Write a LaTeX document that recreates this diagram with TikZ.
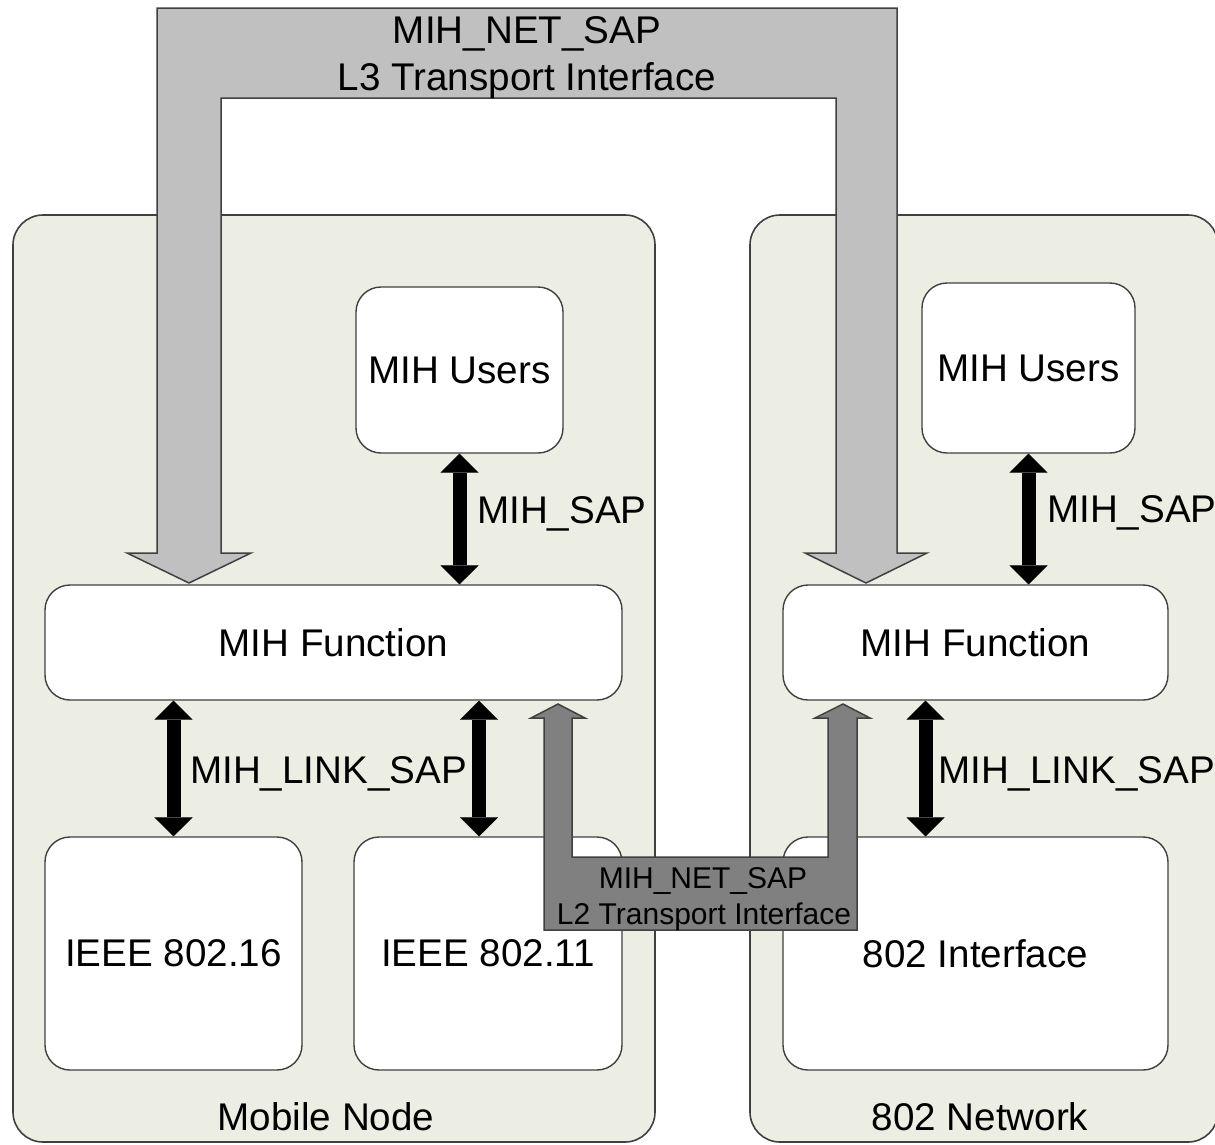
\documentclass[tikz,border=0pt]{standalone}
\usepackage{fontspec}
\setmainfont{Liberation Sans}
\usetikzlibrary{arrows.meta}
\definecolor{contfill}{RGB}{237,238,227}
\definecolor{edgecol}{RGB}{64,64,64}
\definecolor{lthreecol}{RGB}{192,192,192}
\definecolor{ltwocol}{RGB}{128,128,128}
\newcommand\mihbig{\fontsize{38.6pt}{46pt}\selectfont}
\newcommand\mihsmall{\fontsize{30pt}{36pt}\selectfont}
\tikzset{
  container/.style={draw=edgecol, line width=1.6pt, fill=contfill, rounded corners=30pt, inner sep=0pt},
  block/.style={draw=edgecol, line width=1.4pt, fill=white, rounded corners=25pt, inner sep=0pt, font=\mihbig},
  lbl/.style={inner sep=0pt, font=\mihbig},
  smalllbl/.style={inner sep=0pt, font=\mihsmall},
  dbl/.style={line width=14pt, black, {Triangle[width=38pt,length=19pt,line width=0.1pt]}-{Triangle[width=38pt,length=19pt,line width=0.1pt]}},
  bigarrow/.style={draw=edgecol, line width=1.5pt, fill=lthreecol, line join=miter},
  smallarrow/.style={draw=edgecol, line width=1.5pt, fill=ltwocol, line join=miter}
}
\begin{document}
\begin{tikzpicture}[x=1pt, y=-1pt]
\useasboundingbox (0,0) rectangle (1215,1144);
\fill[white] (0,0) rectangle (1215,1144);

% containers
\node[container, minimum width=642pt, minimum height=927pt] (mobile) at (334,678.5) {};
\node[container, minimum width=468pt, minimum height=927pt] (network) at (984,678.5) {};

% blocks
\node[block, minimum width=207pt, minimum height=166pt] (usersL) at (459.5,370) {MIH Users};
\node[block, minimum width=213pt, minimum height=170pt] (usersR) at (1028.5,368) {MIH Users};
\node[block, minimum width=577pt, minimum height=115pt] (funcL) at (333.5,642.5) {MIH Function};
\node[block, minimum width=385pt, minimum height=115pt] (funcR) at (975.5,642.5) {MIH Function};
\node[block, minimum width=257pt, minimum height=233pt] (n16) at (173.5,953.5) {IEEE 802.16};
\node[block, minimum width=268pt, minimum height=233pt] (n11) at (488,953.5) {IEEE 802.11};
\node[block, minimum width=385pt, minimum height=233pt] (n802) at (975.5,953.5) {802 Interface};

% SAP arrows
\draw[dbl] (usersL.south) -- (usersL.south |- funcL.north);
\draw[dbl] (usersR.south) -- (usersR.south |- funcR.north);
\draw[dbl] (n16.north) -- (n16.north |- funcL.south);
\draw[dbl] ([xshift=-9pt]n11.north) -- ([xshift=-9pt]n11.north |- funcL.south);
\draw[dbl] ([xshift=-50pt]n802.north) -- ([xshift=-50pt]n802.north |- funcR.south);

% labels
\node[lbl, anchor=base west] (sapL) at (477,523) {MIH\_SAP};
\node[lbl, anchor=base west] (sapR) at (1047,522) {MIH\_SAP};
\node[lbl, anchor=base west] (linkL) at (190,783) {MIH\_LINK\_SAP};
\node[lbl, anchor=base west] (linkR) at (938,783) {MIH\_LINK\_SAP};
\node[lbl, anchor=base] (mnlab) at (326,1130) {Mobile Node};
\node[lbl, anchor=base] (nwlab) at (980,1130) {802 Network};

% L3 transport arrow
\draw[bigarrow] (157,8) -- (897,8) -- (897,553) -- (927,553) -- (866,583) -- (805,553) -- (836,553)
  -- (836,98) -- (221,98) -- (221,553) -- (251,553) -- (189,583) -- (127,553) -- (157,553) -- cycle;
\node[lbl, anchor=base] (l3a) at (527,43) {MIH\_NET\_SAP};
\node[lbl, anchor=base] (l3b) at (527,90) {L3 Transport Interface};

% L2 transport arrow
\draw[smallarrow] (544,930) -- (857,930) -- (857,718) -- (870,718) -- (843,704) -- (815,718) -- (828,718)
  -- (828,857) -- (572,857) -- (572,718) -- (585,718) -- (558,704) -- (531,718) -- (544,718) -- cycle;
\node[smalllbl, anchor=base] (l2a) at (703,888) {MIH\_NET\_SAP};
\node[smalllbl, anchor=base] (l2b) at (704,924) {L2 Transport Interface};
\end{tikzpicture}
\end{document}
